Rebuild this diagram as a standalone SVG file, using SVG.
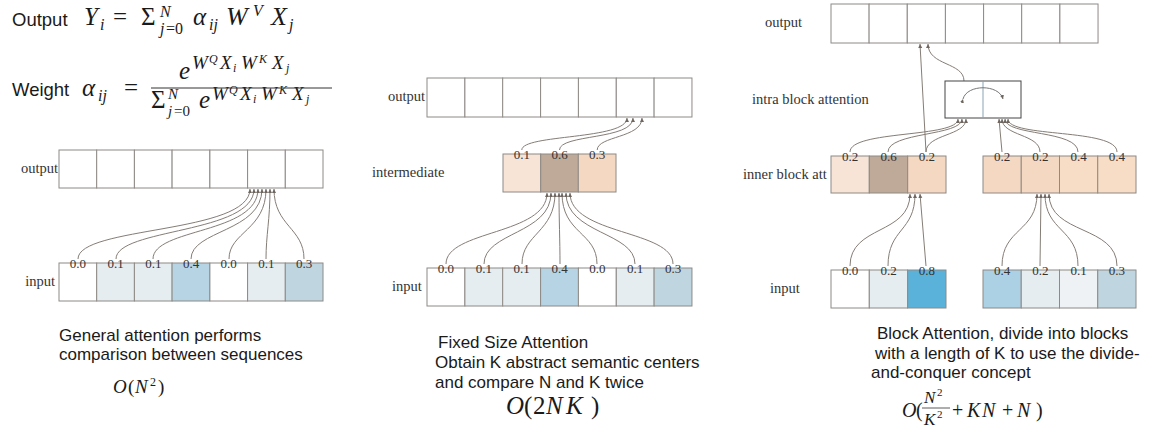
<svg xmlns="http://www.w3.org/2000/svg" width="1165" height="436" viewBox="0 0 1165 436">
<defs>
<style>
.c{stroke:#8e8a86;stroke-width:1;}
.w{fill:#ffffff;}
.b1{fill:#e6edf1;}
.b4{fill:#b6d4e3;}
.b3{fill:#bfd5df;}
.b8{fill:#5ab2da;}
.bx{fill:#eef2f4;}
.p1{fill:#f7e4d6;}
.p6{fill:#bfa998;}
.p3{fill:#f5d8c1;}
.lab{font-family:"Liberation Serif","DejaVu Serif",serif;font-size:14.5px;fill:#333;}
.num{font-family:"Liberation Serif","DejaVu Serif",serif;font-size:13px;fill:#333;text-anchor:middle;}
.txt{font-family:"Liberation Sans",Arial,sans-serif;font-size:17px;fill:#1a1a1a;}
.m{font-family:"Liberation Serif","DejaVu Serif",serif;fill:#1a1a1a;}
.i{font-style:italic;}
.conn path{fill:none;stroke:#857d76;stroke-width:1;}
</style>
<marker id="ah" markerUnits="userSpaceOnUse" markerWidth="5" markerHeight="5" refX="4" refY="2" orient="auto">
<path d="M0,0 L4,2 L0,4 z" fill="#6e665f"/>
</marker>
</defs>
<rect width="1165" height="436" fill="#ffffff"/>

<g id="formula-output">
<text class="txt" x="12" y="26" style="font-size:18.5px">Output</text>
<text class="m" style="font-size:25px"><tspan class="i" x="84" y="25">Y</tspan><tspan class="i" x="100" y="30" style="font-size:16px">i</tspan><tspan x="113" y="25">=</tspan><tspan x="141" y="25">Σ</tspan><tspan class="i" x="160" y="17" style="font-size:16px">N</tspan><tspan class="i" x="160" y="34" style="font-size:16px">j</tspan><tspan x="166" y="34" style="font-size:16px">=0</tspan><tspan class="i" x="193" y="25">α</tspan><tspan class="i" x="209" y="30" style="font-size:16px">ij</tspan><tspan class="i" x="226" y="25" style="font-size:26px">W</tspan><tspan class="i" x="253" y="16" style="font-size:16px">V</tspan><tspan class="i" x="271" y="25" style="font-size:26px">X</tspan><tspan class="i" x="289" y="30" style="font-size:16px">j</tspan></text>
</g>
<g id="formula-weight">
<text class="txt" x="12" y="96" style="font-size:18.5px">Weight</text>
<text class="m" style="font-size:25px"><tspan class="i" x="82" y="96">α</tspan><tspan class="i" x="98" y="101" style="font-size:16px">ij</tspan><tspan x="124" y="96">=</tspan><tspan class="i" x="179" y="79">e</tspan><tspan class="i" x="192" y="69" style="font-size:19px">W</tspan><tspan class="i" x="209" y="63" style="font-size:12px">Q</tspan><tspan class="i" x="220" y="69" style="font-size:19px">X</tspan><tspan class="i" x="233" y="72" style="font-size:12px">i</tspan><tspan class="i" x="241" y="69" style="font-size:19px">W</tspan><tspan class="i" x="259" y="63" style="font-size:12px">K</tspan><tspan class="i" x="272" y="69" style="font-size:19px">X</tspan><tspan class="i" x="286" y="72" style="font-size:12px">j</tspan><tspan x="151" y="108">Σ</tspan><tspan class="i" x="168" y="99" style="font-size:15px">N</tspan><tspan class="i" x="168" y="116" style="font-size:15px">j</tspan><tspan x="174" y="116" style="font-size:15px">=0</tspan><tspan class="i" x="199" y="108">e</tspan><tspan class="i" x="212" y="100" style="font-size:19px">W</tspan><tspan class="i" x="229" y="94" style="font-size:12px">Q</tspan><tspan class="i" x="240" y="100" style="font-size:19px">X</tspan><tspan class="i" x="253" y="103" style="font-size:12px">i</tspan><tspan class="i" x="261" y="100" style="font-size:19px">W</tspan><tspan class="i" x="279" y="94" style="font-size:12px">K</tspan><tspan class="i" x="292" y="100" style="font-size:19px">X</tspan><tspan class="i" x="306" y="103" style="font-size:12px">j</tspan></text>
<line x1="151" y1="88" x2="332" y2="88" stroke="#333" stroke-width="1"/>
</g>

<g id="connectors" class="conn">
<path d="M78,259 C78,226 250,234 250,189" marker-end="url(#ah)"/>
<path d="M116,259 C116,228 254,234 254,189" marker-end="url(#ah)"/>
<path d="M153,259 C153,228 258,234 258,189" marker-end="url(#ah)"/>
<path d="M191,259 C191,230 262,232 262,189" marker-end="url(#ah)"/>
<path d="M229,259 C229,232 266,230 266,189" marker-end="url(#ah)"/>
<path d="M266,259 C266,235 270,220 270,189" marker-end="url(#ah)"/>
<path d="M304,259 C304,228 274,226 274,189" marker-end="url(#ah)"/>
<path d="M521.8,150 C521.8,134 627,140 627,118" marker-end="url(#ah)"/>
<path d="M559.5,150 C559.5,134 633,140 633,118" marker-end="url(#ah)"/>
<path d="M597.2,150 C597.2,136 642,138 642,118" marker-end="url(#ah)"/>
<path d="M446,264 C446,230 547,235 547,193" marker-end="url(#ah)"/>
<path d="M484,264 C484,232 551,234 551,193" marker-end="url(#ah)"/>
<path d="M522,264 C522,234 555,232 555,193" marker-end="url(#ah)"/>
<path d="M560,264 C560,240 559,220 559,193" marker-end="url(#ah)"/>
<path d="M597,264 C597,232 562,234 562,193" marker-end="url(#ah)"/>
<path d="M635,264 C635,232 566,234 566,193" marker-end="url(#ah)"/>
<path d="M673,264 C673,230 570,235 570,193" marker-end="url(#ah)"/>
<path d="M926,152 L920,44" marker-end="url(#ah)"/>
<path d="M964,81 C964,62 928,66 928,44" marker-end="url(#ah)"/>
<path d="M850,152 C850,130 958,138 958,119" marker-end="url(#ah)"/>
<path d="M888,152 C888,132 962,136 962,119" marker-end="url(#ah)"/>
<path d="M926,152 C926,134 966,136 966,119" marker-end="url(#ah)"/>
<path d="M1002,152 L999,119" marker-end="url(#ah)"/>
<path d="M1040,152 C1040,134 1002,136 1002,119" marker-end="url(#ah)"/>
<path d="M1078,152 C1078,130 1005,136 1005,119" marker-end="url(#ah)"/>
<path d="M1117,152 C1117,128 1008,138 1008,119" marker-end="url(#ah)"/>
<path d="M850,266 C850,225 910,235 910,194" marker-end="url(#ah)"/>
<path d="M888,266 C888,228 915,232 915,194" marker-end="url(#ah)"/>
<path d="M926,266 L920,194" marker-end="url(#ah)"/>
<path d="M1002,266 C1002,228 1037,232 1037,194" marker-end="url(#ah)"/>
<path d="M1040,266 L1041,194" marker-end="url(#ah)"/>
<path d="M1078,266 C1078,228 1045,232 1045,194" marker-end="url(#ah)"/>
<path d="M1117,266 C1117,225 1049,235 1049,194" marker-end="url(#ah)"/>
</g>

<g id="p1-output">
<text class="lab" x="58" y="173" text-anchor="end">output</text>
<rect class="c w" x="59" y="150" width="37.7" height="38"/>
<rect class="c w" x="96.7" y="150" width="37.7" height="38"/>
<rect class="c w" x="134.4" y="150" width="37.7" height="38"/>
<rect class="c w" x="172.1" y="150" width="37.7" height="38"/>
<rect class="c w" x="209.9" y="150" width="37.7" height="38"/>
<rect class="c w" x="247.6" y="150" width="37.7" height="38"/>
<rect class="c w" x="285.3" y="150" width="37.7" height="38"/>
</g>
<g id="p1-input">
<text class="lab" x="55" y="286" text-anchor="end">input</text>
<rect class="c w" x="59" y="263" width="37.7" height="38"/>
<rect class="c b1" x="96.7" y="263" width="37.7" height="38"/>
<rect class="c b1" x="134.4" y="263" width="37.7" height="38"/>
<rect class="c b4" x="172.1" y="263" width="37.7" height="38"/>
<rect class="c w" x="209.9" y="263" width="37.7" height="38"/>
<rect class="c b1" x="247.6" y="263" width="37.7" height="38"/>
<rect class="c b3" x="285.3" y="263" width="37.7" height="38"/>
<text class="num" x="77.9" y="268">0.0</text>
<text class="num" x="115.6" y="268">0.1</text>
<text class="num" x="153.3" y="268">0.1</text>
<text class="num" x="191" y="268">0.4</text>
<text class="num" x="228.7" y="268">0.0</text>
<text class="num" x="266.4" y="268">0.1</text>
<text class="num" x="304.2" y="268">0.3</text>
</g>
<g id="p1-caption">
<text class="txt" x="59" y="341">General attention performs</text>
<text class="txt" x="59" y="360">comparison between sequences</text>
<text class="m" style="font-size:19px"><tspan class="i" x="113" y="393">O</tspan><tspan x="128" y="393">(</tspan><tspan class="i" x="135" y="393">N</tspan><tspan x="150" y="386" style="font-size:12px">2</tspan><tspan x="158" y="393">)</tspan></text>
</g>

<g id="p2-output">
<text class="lab" x="425" y="101" text-anchor="end">output</text>
<rect class="c w" x="427" y="78" width="37.86" height="39"/>
<rect class="c w" x="464.9" y="78" width="37.86" height="39"/>
<rect class="c w" x="502.7" y="78" width="37.86" height="39"/>
<rect class="c w" x="540.6" y="78" width="37.86" height="39"/>
<rect class="c w" x="578.4" y="78" width="37.86" height="39"/>
<rect class="c w" x="616.3" y="78" width="37.86" height="39"/>
<rect class="c w" x="654.1" y="78" width="37.86" height="39"/>
</g>
<g id="p2-intermediate">
<text class="lab" x="372" y="177">intermediate</text>
<rect class="c p1" x="503" y="154" width="37.7" height="38"/>
<rect class="c p6" x="540.7" y="154" width="37.7" height="38"/>
<rect class="c p3" x="578.3" y="154" width="37.7" height="38"/>
<text class="num" x="521.8" y="159">0.1</text>
<text class="num" x="559.5" y="159">0.6</text>
<text class="num" x="597.2" y="159">0.3</text>
</g>
<g id="p2-input">
<text class="lab" x="392" y="291">input</text>
<rect class="c w" x="427" y="268" width="37.86" height="38"/>
<rect class="c b1" x="464.9" y="268" width="37.86" height="38"/>
<rect class="c b1" x="502.7" y="268" width="37.86" height="38"/>
<rect class="c b4" x="540.6" y="268" width="37.86" height="38"/>
<rect class="c w" x="578.4" y="268" width="37.86" height="38"/>
<rect class="c b1" x="616.3" y="268" width="37.86" height="38"/>
<rect class="c b3" x="654.1" y="268" width="37.86" height="38"/>
<text class="num" x="445.9" y="273">0.0</text>
<text class="num" x="483.8" y="273">0.1</text>
<text class="num" x="521.6" y="273">0.1</text>
<text class="num" x="559.5" y="273">0.4</text>
<text class="num" x="597.4" y="273">0.0</text>
<text class="num" x="635.2" y="273">0.1</text>
<text class="num" x="673.1" y="273">0.3</text>
</g>
<g id="p2-caption">
<text class="txt" x="438" y="348">Fixed Size Attention</text>
<text class="txt" x="435" y="368">Obtain K abstract semantic centers</text>
<text class="txt" x="435" y="388">and compare N and K twice</text>
<text class="m" style="font-size:25px"><tspan class="i" x="506" y="414">O</tspan><tspan x="524" y="414">(</tspan><tspan x="533" y="414">2</tspan><tspan class="i" x="546" y="414">N</tspan><tspan class="i" x="566" y="414">K</tspan><tspan x="591" y="414">)</tspan></text>
</g>

<g id="p3-output">
<text class="lab" x="765" y="27">output</text>
<rect class="c w" x="831" y="4" width="38.14" height="39"/>
<rect class="c w" x="869.1" y="4" width="38.14" height="39"/>
<rect class="c w" x="907.3" y="4" width="38.14" height="39"/>
<rect class="c w" x="945.4" y="4" width="38.14" height="39"/>
<rect class="c w" x="983.6" y="4" width="38.14" height="39"/>
<rect class="c w" x="1021.7" y="4" width="38.14" height="39"/>
<rect class="c w" x="1059.9" y="4" width="38.14" height="39"/>
</g>
<g id="p3-intra">
<text class="lab" x="752" y="104">intra block attention</text>
<rect class="w" x="945" y="81" width="76" height="37" stroke="#444" stroke-width="1"/>
<line x1="983" y1="81" x2="983" y2="118" stroke="#8aa3b0" stroke-width="1"/>
<path d="M963,99 C967,84 999,84 1003,99" fill="none" stroke="#777" stroke-width="1" marker-start="url(#ah)" marker-end="url(#ah)"/>
</g>
<g id="p3-inner-left">
<text class="lab" x="743" y="179">inner block att</text>
<rect class="c p1" x="831" y="156" width="38.3" height="37"/>
<rect class="c p6" x="869.3" y="156" width="38.3" height="37"/>
<rect class="c p3" x="907.7" y="156" width="38.3" height="37"/>
<text class="num" x="850.2" y="161">0.2</text>
<text class="num" x="888.5" y="161">0.6</text>
<text class="num" x="926.8" y="161">0.2</text>
</g>
<g id="p3-inner-right">
<rect class="c p3" x="983" y="156" width="38.25" height="37"/>
<rect class="c p3" x="1021.25" y="156" width="38.25" height="37"/>
<rect class="c" style="fill:#f7dcc6" x="1059.5" y="156" width="38.25" height="37"/>
<rect class="c" style="fill:#f7dcc6" x="1097.75" y="156" width="38.25" height="37"/>
<text class="num" x="1002.1" y="161">0.2</text>
<text class="num" x="1040.4" y="161">0.2</text>
<text class="num" x="1078.6" y="161">0.4</text>
<text class="num" x="1116.9" y="161">0.4</text>
</g>
<g id="p3-input-left">
<text class="lab" x="770" y="293">input</text>
<rect class="c w" x="831" y="270" width="38.3" height="38"/>
<rect class="c b1" x="869.3" y="270" width="38.3" height="38"/>
<rect class="c b8" x="907.7" y="270" width="38.3" height="38"/>
<text class="num" x="850.2" y="275">0.0</text>
<text class="num" x="888.5" y="275">0.2</text>
<text class="num" x="926.8" y="275">0.8</text>
</g>
<g id="p3-input-right">
<rect class="c" style="fill:#acd0e4" x="983" y="270" width="38.25" height="38"/>
<rect class="c b1" x="1021.25" y="270" width="38.25" height="38"/>
<rect class="c bx" x="1059.5" y="270" width="38.25" height="38"/>
<rect class="c b3" x="1097.75" y="270" width="38.25" height="38"/>
<text class="num" x="1002.1" y="275">0.4</text>
<text class="num" x="1040.4" y="275">0.2</text>
<text class="num" x="1078.6" y="275">0.1</text>
<text class="num" x="1116.9" y="275">0.3</text>
</g>
<g id="p3-caption">
<text class="txt" x="877" y="339">Block Attention, divide into blocks</text>
<text class="txt" x="875" y="359">with a length of K to use the divide-</text>
<text class="txt" x="871" y="378">and-conquer concept</text>
<text class="m" style="font-size:20px"><tspan class="i" x="902" y="417">O</tspan><tspan x="916" y="417">(</tspan><tspan class="i" x="924" y="403" style="font-size:17px">N</tspan><tspan x="937" y="396" style="font-size:11px">2</tspan><tspan class="i" x="924" y="425" style="font-size:17px">K</tspan><tspan x="937" y="418" style="font-size:11px">2</tspan><tspan x="952" y="417">+</tspan><tspan class="i" x="967" y="417">K</tspan><tspan class="i" x="982" y="417">N</tspan><tspan x="1002" y="417">+</tspan><tspan class="i" x="1017" y="417">N</tspan><tspan x="1036" y="417">)</tspan></text>
<line x1="922" y1="408" x2="950" y2="408" stroke="#333" stroke-width="0.8"/>
</g>
</svg>
